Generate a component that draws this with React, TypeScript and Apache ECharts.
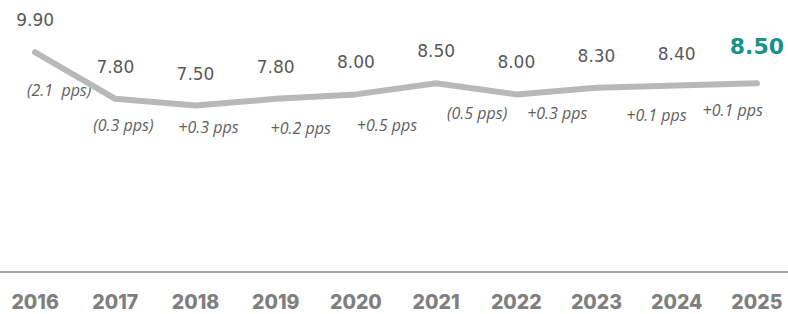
import React, { useEffect, useRef } from "react";
import * as echarts from "echarts";

const years = ["2016", "2017", "2018", "2019", "2020", "2021", "2022", "2023", "2024", "2025"];
const values = [9.9, 7.8, 7.5, 7.8, 8.0, 8.5, 8.0, 8.3, 8.4, 8.5];
const ppsLabels = ["(2.1  pps)", "(0.3 pps)", "+0.3 pps", "+0.2 pps", "+0.5 pps", "(0.5 pps)", "+0.3 pps", "+0.1 pps", "+0.1 pps"];
const ppsOffsets: [number, number][] = [
  [24, 38], [8, 26], [13, 21.5], [25, 29], [31, 30.5], [41, 30], [41, 18.5], [60, 27], [56, 24.5],
];

export default function App() {
  const ref = useRef<HTMLDivElement>(null);
  useEffect(() => {
    if (!ref.current) return;
    const chart = echarts.init(ref.current, null, { renderer: "svg" });
    const last = values.length - 1;
    chart.setOption({
      animation: false,
      grid: { left: -5, right: -9, top: 50, bottom: 42, outerBoundsMode: "none", containLabel: false },
      xAxis: {
        type: "category",
        data: years,
        boundaryGap: true,
        axisLine: { show: true, lineStyle: { color: "#a0a0a0", width: 2 } },
        axisTick: { show: false },
        axisLabel: {
          margin: 21,
          fontFamily: "Inter",
          fontWeight: 800,
          fontSize: 19.5,
          lineHeight: 18,
          color: "#7f7f7f",
        },
      },
      yAxis: { type: "value", min: 0, max: 10, show: false, splitLine: { show: false } },
      series: [
        {
          type: "line",
          data: values.map((v, i) => ({
            value: v,
            label:
              i === last
                ? { fontSize: 22, fontWeight: "bold", color: "#17928a", distance: 25, fontFamily: "DejaVu Sans" }
                : undefined,
          })),
          symbol: "circle",
          symbolSize: 1,
          itemStyle: { color: "transparent" },
          lineStyle: { color: "#b8b8b8", width: 6, cap: "round", join: "round" },
          label: {
            show: true,
            position: "top",
            distance: 23,
            formatter: (p: any) => Number(p.value).toFixed(2),
            fontFamily: "DejaVu Sans",
            fontSize: 17,
            color: "#595959",
          },
          z: 3,
        },
        {
          type: "line",
          data: values.map((v, i) =>
            i < ppsLabels.length
              ? { value: v, label: { show: true, offset: ppsOffsets[i] } }
              : { value: v, label: { show: false } }
          ),
          symbol: "circle",
          symbolSize: 1,
          itemStyle: { color: "transparent" },
          lineStyle: { width: 0, opacity: 0 },
          label: {
            show: true,
            position: "inside",
            formatter: (p: any) => ppsLabels[p.dataIndex] ?? "",
            fontFamily: "Open Sans",
            fontStyle: "italic",
            fontSize: 16,
            color: "#5f5f5f",
          },
          z: 2,
        },
      ],
    });
    return () => chart.dispose();
  }, []);
  return <div ref={ref} style={{ width: 788, height: 314, position: "absolute", left: 0, top: 0 }} />;
}
